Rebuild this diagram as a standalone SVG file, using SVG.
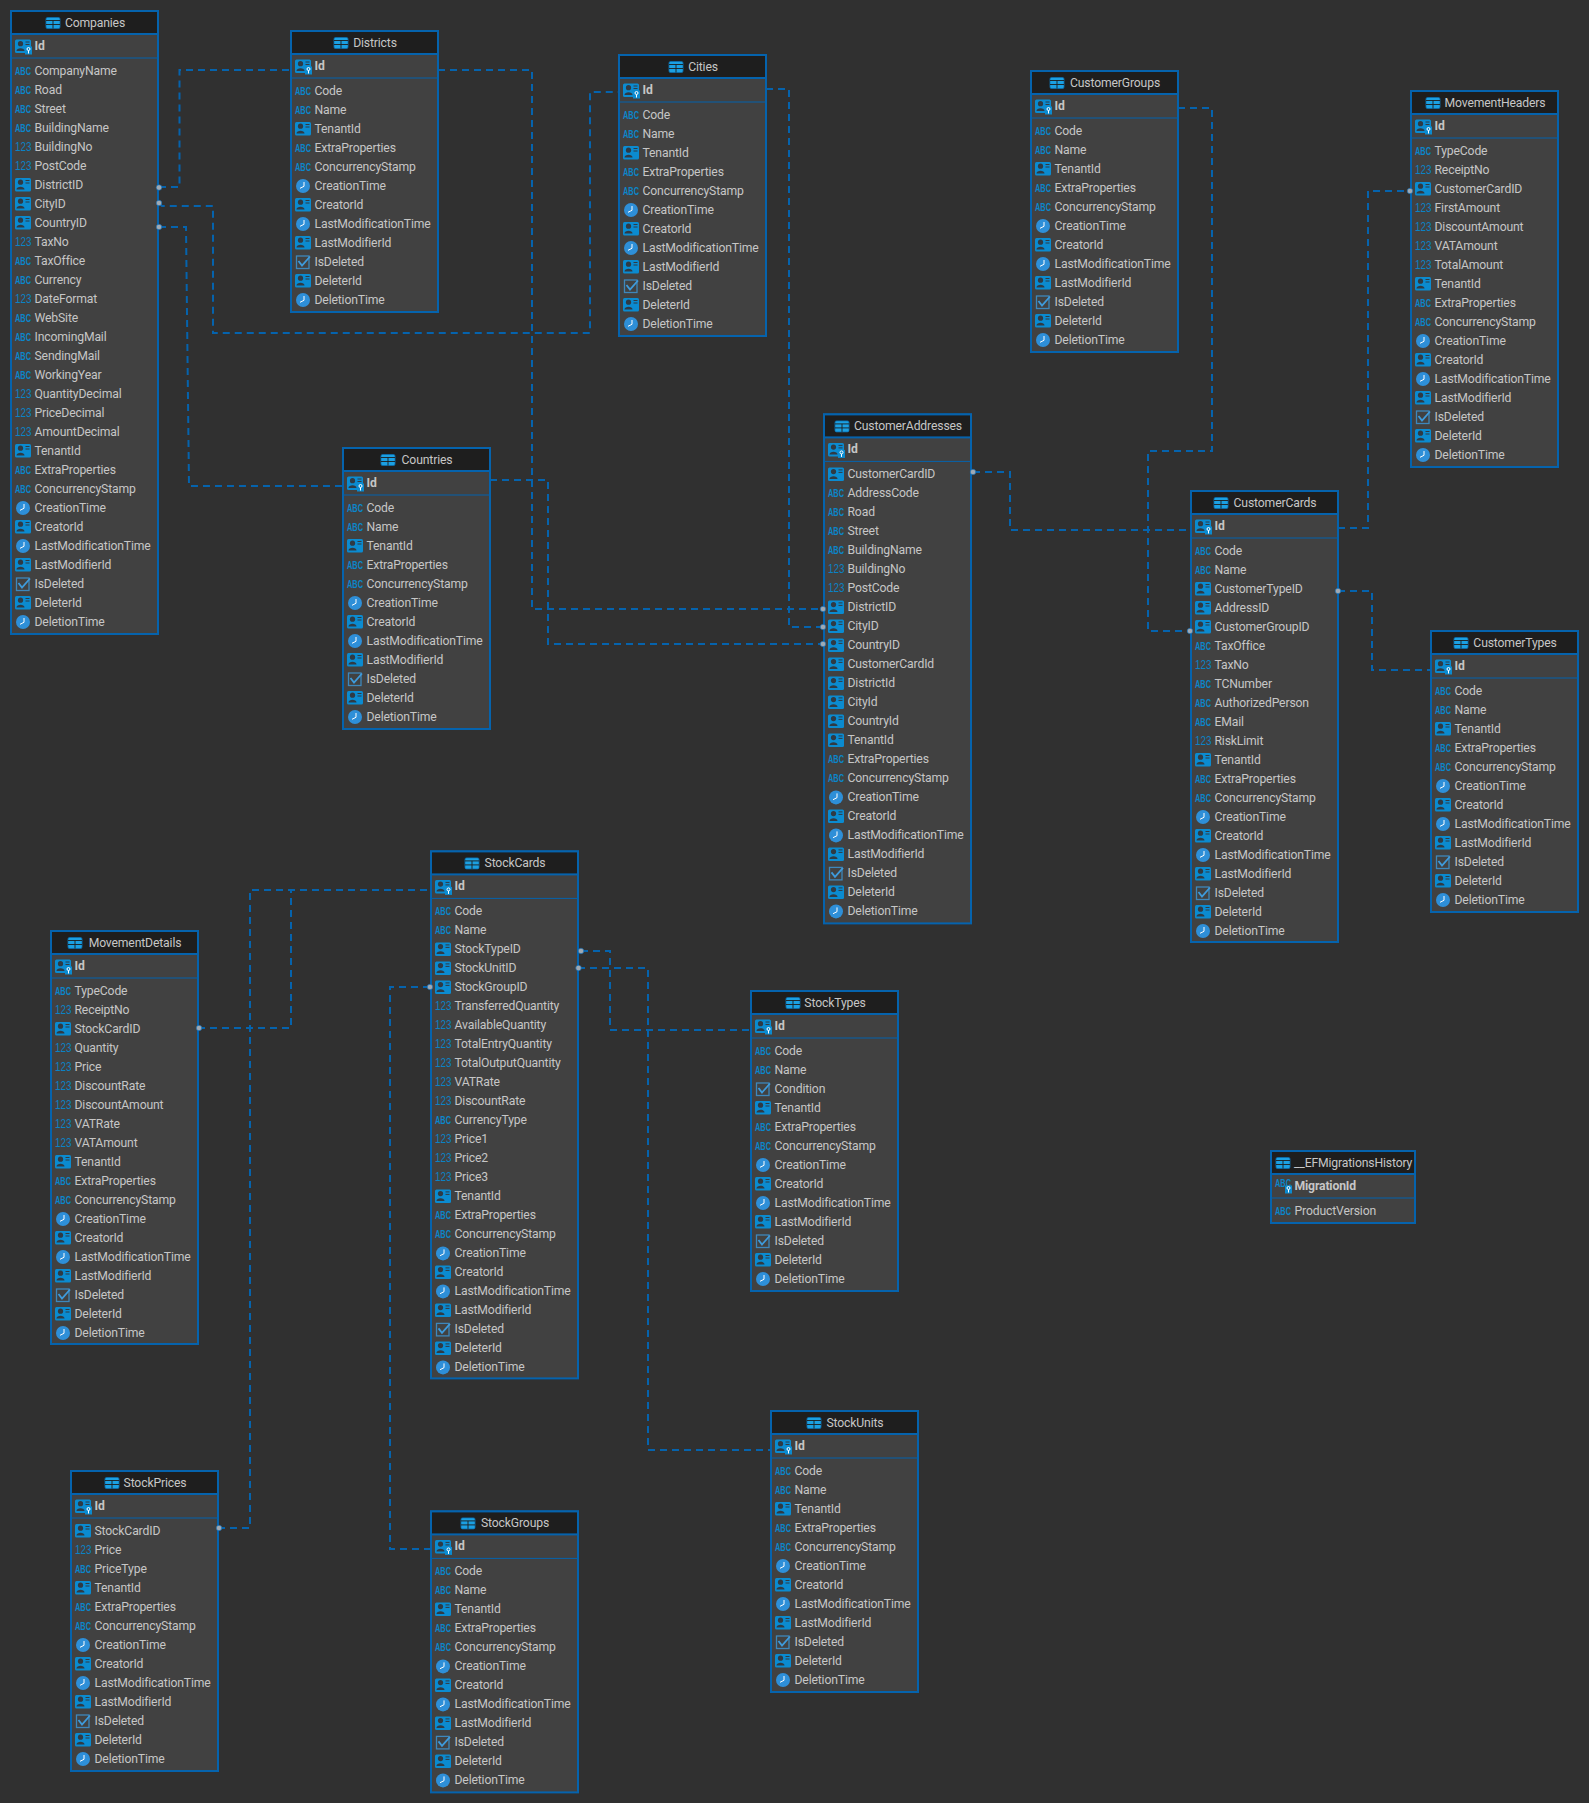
<svg xmlns="http://www.w3.org/2000/svg" width="1589" height="1803" viewBox="0 0 1589 1803">
<style>
text{font-family:Roboto,"Open Sans",sans-serif;font-size:12.2px;letter-spacing:-.15px;fill:#c6c6c6;dominant-baseline:central;transform:translateY(-.5px)}
.h{text-anchor:middle}
.i{font-weight:700}
.box{fill:#414141;stroke:#0563ad;stroke-width:2}
.tb{fill:#1e1e1e;stroke:#0563ad;stroke-width:2}
.sep{stroke:#0563ad;stroke-width:1}
.ia{font-size:11px;font-weight:700;letter-spacing:0;fill:#0b86ca;font-family:"Liberation Sans",sans-serif}
.in{font-size:13px;letter-spacing:0;fill:#0b82c4;font-family:"Liberation Sans",sans-serif}
.lnk{fill:none;stroke:#0563ad;stroke-width:2;stroke-dasharray:7 5}
.dot{fill:#9fa9b3;stroke:#0563ad;stroke-width:.6}
</style>
<defs>
<g id="a"><text class="ia" x="4" y="0" textLength="16" lengthAdjust="spacingAndGlyphs">ABC</text></g>
<g id="n"><text class="in" x="4" y="0" textLength="16.500" lengthAdjust="spacingAndGlyphs">123</text></g>
<g id="p"><rect x="4" y="-7" width="16" height="13.5" rx="1.500" fill="#0b8bd0"/><circle cx="9.500" cy="-2.800" r="2.600" fill="#2f3a44"/><path d="M5.500 4.500c0-3.600 8-3.600 8 0z" fill="#2f3a44"/><path d="M14.500-4.500h4M14.500-2h4" stroke="#2f3a44"/></g>
<g id="c"><circle cx="12" cy="0" r="7" fill="#2e8fd8"/><path d="M13-4v4.300l-4 2" fill="none" stroke="#fff" stroke-width="1"/></g>
<g id="k"><rect x="5.500" y="-6" width="12.500" height="12.500" fill="none" stroke="#3e87bb" stroke-width="1.300"/><path d="M7.500-1l3.500 4.500 8-9" fill="none" stroke="#3e9bdc" stroke-width="1.800"/></g>
<g id="b"><rect x="14" y="0" width="7" height="8" fill="#0b8bd0"/><circle cx="17.500" cy="2.500" r="1.500" fill="none" stroke="#fff"/><path d="M17.500 4v3" stroke="#fff"/></g>
<g id="pk"><use href="#p"/><use href="#b"/></g>
<g id="ak"><use href="#a" y="-3"/><use href="#b" y="-1"/></g>
<g id="tb"><rect x="-1" y="-5.500" width="14" height="11" rx="1.500" fill="#1ba0e2" stroke="#0b6fb0" stroke-width=".8"/><path d="M-1-2.500h14M-1 1.500h14M6-2.500v8" stroke="#1e1e1e" stroke-width=".9"/></g>
</defs>
<rect width="1589" height="1803" fill="#303030"/>
<g id="nodes">
<g id="Companies" transform="translate(11 11)"><rect class="box" width="147" height="623"/><rect class="tb" width="147" height="23"/><line class="sep" x1="0" x2="147" y1="47" y2="47"/><use href="#tb" x="36" y="12"/><text class="h" x="84" y="12">Companies</text>
<use href="#pk" y="35.500"/><text class="i" x="23.500" y="35.500">Id</text>
<use href="#a" y="60"/><text x="23.500" y="60">CompanyName</text>
<use href="#a" y="79"/><text x="23.500" y="79">Road</text>
<use href="#a" y="98"/><text x="23.500" y="98">Street</text>
<use href="#a" y="117"/><text x="23.500" y="117">BuildingName</text>
<use href="#n" y="136"/><text x="23.500" y="136">BuildingNo</text>
<use href="#n" y="155"/><text x="23.500" y="155">PostCode</text>
<use href="#p" y="174"/><text x="23.500" y="174">DistrictID</text>
<use href="#p" y="193"/><text x="23.500" y="193">CityID</text>
<use href="#p" y="212"/><text x="23.500" y="212">CountryID</text>
<use href="#n" y="231"/><text x="23.500" y="231">TaxNo</text>
<use href="#a" y="250"/><text x="23.500" y="250">TaxOffice</text>
<use href="#a" y="269"/><text x="23.500" y="269">Currency</text>
<use href="#n" y="288"/><text x="23.500" y="288">DateFormat</text>
<use href="#a" y="307"/><text x="23.500" y="307">WebSite</text>
<use href="#a" y="326"/><text x="23.500" y="326">IncomingMail</text>
<use href="#a" y="345"/><text x="23.500" y="345">SendingMail</text>
<use href="#a" y="364"/><text x="23.500" y="364">WorkingYear</text>
<use href="#n" y="383"/><text x="23.500" y="383">QuantityDecimal</text>
<use href="#n" y="402"/><text x="23.500" y="402">PriceDecimal</text>
<use href="#n" y="421"/><text x="23.500" y="421">AmountDecimal</text>
<use href="#p" y="440"/><text x="23.500" y="440">TenantId</text>
<use href="#a" y="459"/><text x="23.500" y="459">ExtraProperties</text>
<use href="#a" y="478"/><text x="23.500" y="478">ConcurrencyStamp</text>
<use href="#c" y="497"/><text x="23.500" y="497">CreationTime</text>
<use href="#p" y="516"/><text x="23.500" y="516">CreatorId</text>
<use href="#c" y="535"/><text x="23.500" y="535">LastModificationTime</text>
<use href="#p" y="554"/><text x="23.500" y="554">LastModifierId</text>
<use href="#k" y="573"/><text x="23.500" y="573">IsDeleted</text>
<use href="#p" y="592"/><text x="23.500" y="592">DeleterId</text>
<use href="#c" y="611"/><text x="23.500" y="611">DeletionTime</text></g>

<g id="Districts" transform="translate(291 31)"><rect class="box" width="147" height="281"/><rect class="tb" width="147" height="23"/><line class="sep" x1="0" x2="147" y1="47" y2="47"/><use href="#tb" x="44" y="12"/><text class="h" x="84" y="12">Districts</text>
<use href="#pk" y="35.500"/><text class="i" x="23.500" y="35.500">Id</text>
<use href="#a" y="60"/><text x="23.500" y="60">Code</text>
<use href="#a" y="79"/><text x="23.500" y="79">Name</text>
<use href="#p" y="98"/><text x="23.500" y="98">TenantId</text>
<use href="#a" y="117"/><text x="23.500" y="117">ExtraProperties</text>
<use href="#a" y="136"/><text x="23.500" y="136">ConcurrencyStamp</text>
<use href="#c" y="155"/><text x="23.500" y="155">CreationTime</text>
<use href="#p" y="174"/><text x="23.500" y="174">CreatorId</text>
<use href="#c" y="193"/><text x="23.500" y="193">LastModificationTime</text>
<use href="#p" y="212"/><text x="23.500" y="212">LastModifierId</text>
<use href="#k" y="231"/><text x="23.500" y="231">IsDeleted</text>
<use href="#p" y="250"/><text x="23.500" y="250">DeleterId</text>
<use href="#c" y="269"/><text x="23.500" y="269">DeletionTime</text></g>

<g id="Cities" transform="translate(619 55)"><rect class="box" width="147" height="281"/><rect class="tb" width="147" height="23"/><line class="sep" x1="0" x2="147" y1="47" y2="47"/><use href="#tb" x="51" y="12"/><text class="h" x="84" y="12">Cities</text>
<use href="#pk" y="35.500"/><text class="i" x="23.500" y="35.500">Id</text>
<use href="#a" y="60"/><text x="23.500" y="60">Code</text>
<use href="#a" y="79"/><text x="23.500" y="79">Name</text>
<use href="#p" y="98"/><text x="23.500" y="98">TenantId</text>
<use href="#a" y="117"/><text x="23.500" y="117">ExtraProperties</text>
<use href="#a" y="136"/><text x="23.500" y="136">ConcurrencyStamp</text>
<use href="#c" y="155"/><text x="23.500" y="155">CreationTime</text>
<use href="#p" y="174"/><text x="23.500" y="174">CreatorId</text>
<use href="#c" y="193"/><text x="23.500" y="193">LastModificationTime</text>
<use href="#p" y="212"/><text x="23.500" y="212">LastModifierId</text>
<use href="#k" y="231"/><text x="23.500" y="231">IsDeleted</text>
<use href="#p" y="250"/><text x="23.500" y="250">DeleterId</text>
<use href="#c" y="269"/><text x="23.500" y="269">DeletionTime</text></g>

<g id="CustomerGroups" transform="translate(1031 71)"><rect class="box" width="147" height="281"/><rect class="tb" width="147" height="23"/><line class="sep" x1="0" x2="147" y1="47" y2="47"/><use href="#tb" x="20" y="12"/><text class="h" x="84" y="12">CustomerGroups</text>
<use href="#pk" y="35.500"/><text class="i" x="23.500" y="35.500">Id</text>
<use href="#a" y="60"/><text x="23.500" y="60">Code</text>
<use href="#a" y="79"/><text x="23.500" y="79">Name</text>
<use href="#p" y="98"/><text x="23.500" y="98">TenantId</text>
<use href="#a" y="117"/><text x="23.500" y="117">ExtraProperties</text>
<use href="#a" y="136"/><text x="23.500" y="136">ConcurrencyStamp</text>
<use href="#c" y="155"/><text x="23.500" y="155">CreationTime</text>
<use href="#p" y="174"/><text x="23.500" y="174">CreatorId</text>
<use href="#c" y="193"/><text x="23.500" y="193">LastModificationTime</text>
<use href="#p" y="212"/><text x="23.500" y="212">LastModifierId</text>
<use href="#k" y="231"/><text x="23.500" y="231">IsDeleted</text>
<use href="#p" y="250"/><text x="23.500" y="250">DeleterId</text>
<use href="#c" y="269"/><text x="23.500" y="269">DeletionTime</text></g>

<g id="MovementHeaders" transform="translate(1411 91)"><rect class="box" width="147" height="376"/><rect class="tb" width="147" height="23"/><line class="sep" x1="0" x2="147" y1="47" y2="47"/><use href="#tb" x="16" y="12"/><text class="h" x="84" y="12">MovementHeaders</text>
<use href="#pk" y="35.500"/><text class="i" x="23.500" y="35.500">Id</text>
<use href="#a" y="60"/><text x="23.500" y="60">TypeCode</text>
<use href="#n" y="79"/><text x="23.500" y="79">ReceiptNo</text>
<use href="#p" y="98"/><text x="23.500" y="98">CustomerCardID</text>
<use href="#n" y="117"/><text x="23.500" y="117">FirstAmount</text>
<use href="#n" y="136"/><text x="23.500" y="136">DiscountAmount</text>
<use href="#n" y="155"/><text x="23.500" y="155">VATAmount</text>
<use href="#n" y="174"/><text x="23.500" y="174">TotalAmount</text>
<use href="#p" y="193"/><text x="23.500" y="193">TenantId</text>
<use href="#a" y="212"/><text x="23.500" y="212">ExtraProperties</text>
<use href="#a" y="231"/><text x="23.500" y="231">ConcurrencyStamp</text>
<use href="#c" y="250"/><text x="23.500" y="250">CreationTime</text>
<use href="#p" y="269"/><text x="23.500" y="269">CreatorId</text>
<use href="#c" y="288"/><text x="23.500" y="288">LastModificationTime</text>
<use href="#p" y="307"/><text x="23.500" y="307">LastModifierId</text>
<use href="#k" y="326"/><text x="23.500" y="326">IsDeleted</text>
<use href="#p" y="345"/><text x="23.500" y="345">DeleterId</text>
<use href="#c" y="364"/><text x="23.500" y="364">DeletionTime</text></g>

<g id="CustomerAddresses" transform="translate(824 414.400)"><rect class="box" width="147" height="509"/><rect class="tb" width="147" height="23"/><line class="sep" x1="0" x2="147" y1="47" y2="47"/><use href="#tb" x="12" y="12"/><text class="h" x="84" y="12">CustomerAddresses</text>
<use href="#pk" y="35.500"/><text class="i" x="23.500" y="35.500">Id</text>
<use href="#p" y="60"/><text x="23.500" y="60">CustomerCardID</text>
<use href="#a" y="79"/><text x="23.500" y="79">AddressCode</text>
<use href="#a" y="98"/><text x="23.500" y="98">Road</text>
<use href="#a" y="117"/><text x="23.500" y="117">Street</text>
<use href="#a" y="136"/><text x="23.500" y="136">BuildingName</text>
<use href="#n" y="155"/><text x="23.500" y="155">BuildingNo</text>
<use href="#n" y="174"/><text x="23.500" y="174">PostCode</text>
<use href="#p" y="193"/><text x="23.500" y="193">DistrictID</text>
<use href="#p" y="212"/><text x="23.500" y="212">CityID</text>
<use href="#p" y="231"/><text x="23.500" y="231">CountryID</text>
<use href="#p" y="250"/><text x="23.500" y="250">CustomerCardId</text>
<use href="#p" y="269"/><text x="23.500" y="269">DistrictId</text>
<use href="#p" y="288"/><text x="23.500" y="288">CityId</text>
<use href="#p" y="307"/><text x="23.500" y="307">CountryId</text>
<use href="#p" y="326"/><text x="23.500" y="326">TenantId</text>
<use href="#a" y="345"/><text x="23.500" y="345">ExtraProperties</text>
<use href="#a" y="364"/><text x="23.500" y="364">ConcurrencyStamp</text>
<use href="#c" y="383"/><text x="23.500" y="383">CreationTime</text>
<use href="#p" y="402"/><text x="23.500" y="402">CreatorId</text>
<use href="#c" y="421"/><text x="23.500" y="421">LastModificationTime</text>
<use href="#p" y="440"/><text x="23.500" y="440">LastModifierId</text>
<use href="#k" y="459"/><text x="23.500" y="459">IsDeleted</text>
<use href="#p" y="478"/><text x="23.500" y="478">DeleterId</text>
<use href="#c" y="497"/><text x="23.500" y="497">DeletionTime</text></g>

<g id="CustomerCards" transform="translate(1191 491)"><rect class="box" width="147" height="451"/><rect class="tb" width="147" height="23"/><line class="sep" x1="0" x2="147" y1="47" y2="47"/><use href="#tb" x="24" y="12"/><text class="h" x="84" y="12">CustomerCards</text>
<use href="#pk" y="35.500"/><text class="i" x="23.500" y="35.500">Id</text>
<use href="#a" y="60"/><text x="23.500" y="60">Code</text>
<use href="#a" y="79"/><text x="23.500" y="79">Name</text>
<use href="#p" y="98"/><text x="23.500" y="98">CustomerTypeID</text>
<use href="#p" y="117"/><text x="23.500" y="117">AddressID</text>
<use href="#p" y="136"/><text x="23.500" y="136">CustomerGroupID</text>
<use href="#a" y="155"/><text x="23.500" y="155">TaxOffice</text>
<use href="#n" y="174"/><text x="23.500" y="174">TaxNo</text>
<use href="#a" y="193"/><text x="23.500" y="193">TCNumber</text>
<use href="#a" y="212"/><text x="23.500" y="212">AuthorizedPerson</text>
<use href="#a" y="231"/><text x="23.500" y="231">EMail</text>
<use href="#n" y="250"/><text x="23.500" y="250">RiskLimit</text>
<use href="#p" y="269"/><text x="23.500" y="269">TenantId</text>
<use href="#a" y="288"/><text x="23.500" y="288">ExtraProperties</text>
<use href="#a" y="307"/><text x="23.500" y="307">ConcurrencyStamp</text>
<use href="#c" y="326"/><text x="23.500" y="326">CreationTime</text>
<use href="#p" y="345"/><text x="23.500" y="345">CreatorId</text>
<use href="#c" y="364"/><text x="23.500" y="364">LastModificationTime</text>
<use href="#p" y="383"/><text x="23.500" y="383">LastModifierId</text>
<use href="#k" y="402"/><text x="23.500" y="402">IsDeleted</text>
<use href="#p" y="421"/><text x="23.500" y="421">DeleterId</text>
<use href="#c" y="440"/><text x="23.500" y="440">DeletionTime</text></g>

<g id="CustomerTypes" transform="translate(1431 631)"><rect class="box" width="147" height="281"/><rect class="tb" width="147" height="23"/><line class="sep" x1="0" x2="147" y1="47" y2="47"/><use href="#tb" x="24" y="12"/><text class="h" x="84" y="12">CustomerTypes</text>
<use href="#pk" y="35.500"/><text class="i" x="23.500" y="35.500">Id</text>
<use href="#a" y="60"/><text x="23.500" y="60">Code</text>
<use href="#a" y="79"/><text x="23.500" y="79">Name</text>
<use href="#p" y="98"/><text x="23.500" y="98">TenantId</text>
<use href="#a" y="117"/><text x="23.500" y="117">ExtraProperties</text>
<use href="#a" y="136"/><text x="23.500" y="136">ConcurrencyStamp</text>
<use href="#c" y="155"/><text x="23.500" y="155">CreationTime</text>
<use href="#p" y="174"/><text x="23.500" y="174">CreatorId</text>
<use href="#c" y="193"/><text x="23.500" y="193">LastModificationTime</text>
<use href="#p" y="212"/><text x="23.500" y="212">LastModifierId</text>
<use href="#k" y="231"/><text x="23.500" y="231">IsDeleted</text>
<use href="#p" y="250"/><text x="23.500" y="250">DeleterId</text>
<use href="#c" y="269"/><text x="23.500" y="269">DeletionTime</text></g>

<g id="Countries" transform="translate(343 448)"><rect class="box" width="147" height="281"/><rect class="tb" width="147" height="23"/><line class="sep" x1="0" x2="147" y1="47" y2="47"/><use href="#tb" x="39" y="12"/><text class="h" x="84" y="12">Countries</text>
<use href="#pk" y="35.500"/><text class="i" x="23.500" y="35.500">Id</text>
<use href="#a" y="60"/><text x="23.500" y="60">Code</text>
<use href="#a" y="79"/><text x="23.500" y="79">Name</text>
<use href="#p" y="98"/><text x="23.500" y="98">TenantId</text>
<use href="#a" y="117"/><text x="23.500" y="117">ExtraProperties</text>
<use href="#a" y="136"/><text x="23.500" y="136">ConcurrencyStamp</text>
<use href="#c" y="155"/><text x="23.500" y="155">CreationTime</text>
<use href="#p" y="174"/><text x="23.500" y="174">CreatorId</text>
<use href="#c" y="193"/><text x="23.500" y="193">LastModificationTime</text>
<use href="#p" y="212"/><text x="23.500" y="212">LastModifierId</text>
<use href="#k" y="231"/><text x="23.500" y="231">IsDeleted</text>
<use href="#p" y="250"/><text x="23.500" y="250">DeleterId</text>
<use href="#c" y="269"/><text x="23.500" y="269">DeletionTime</text></g>

<g id="StockCards" transform="translate(431 851.400)"><rect class="box" width="147" height="527"/><rect class="tb" width="147" height="23"/><line class="sep" x1="0" x2="147" y1="47" y2="47"/><use href="#tb" x="35" y="12"/><text class="h" x="84" y="12">StockCards</text>
<use href="#pk" y="35.500"/><text class="i" x="23.500" y="35.500">Id</text>
<use href="#a" y="60"/><text x="23.500" y="60">Code</text>
<use href="#a" y="79"/><text x="23.500" y="79">Name</text>
<use href="#p" y="98"/><text x="23.500" y="98">StockTypeID</text>
<use href="#p" y="117"/><text x="23.500" y="117">StockUnitID</text>
<use href="#p" y="136"/><text x="23.500" y="136">StockGroupID</text>
<use href="#n" y="155"/><text x="23.500" y="155">TransferredQuantity</text>
<use href="#n" y="174"/><text x="23.500" y="174">AvailableQuantity</text>
<use href="#n" y="193"/><text x="23.500" y="193">TotalEntryQuantity</text>
<use href="#n" y="212"/><text x="23.500" y="212">TotalOutputQuantity</text>
<use href="#n" y="231"/><text x="23.500" y="231">VATRate</text>
<use href="#n" y="250"/><text x="23.500" y="250">DiscountRate</text>
<use href="#a" y="269"/><text x="23.500" y="269">CurrencyType</text>
<use href="#n" y="288"/><text x="23.500" y="288">Price1</text>
<use href="#n" y="307"/><text x="23.500" y="307">Price2</text>
<use href="#n" y="326"/><text x="23.500" y="326">Price3</text>
<use href="#p" y="345"/><text x="23.500" y="345">TenantId</text>
<use href="#a" y="364"/><text x="23.500" y="364">ExtraProperties</text>
<use href="#a" y="383"/><text x="23.500" y="383">ConcurrencyStamp</text>
<use href="#c" y="402"/><text x="23.500" y="402">CreationTime</text>
<use href="#p" y="421"/><text x="23.500" y="421">CreatorId</text>
<use href="#c" y="440"/><text x="23.500" y="440">LastModificationTime</text>
<use href="#p" y="459"/><text x="23.500" y="459">LastModifierId</text>
<use href="#k" y="478"/><text x="23.500" y="478">IsDeleted</text>
<use href="#p" y="497"/><text x="23.500" y="497">DeleterId</text>
<use href="#c" y="516"/><text x="23.500" y="516">DeletionTime</text></g>

<g id="MovementDetails" transform="translate(51 931)"><rect class="box" width="147" height="413"/><rect class="tb" width="147" height="23"/><line class="sep" x1="0" x2="147" y1="47" y2="47"/><use href="#tb" x="18" y="12"/><text class="h" x="84" y="12">MovementDetails</text>
<use href="#pk" y="35.500"/><text class="i" x="23.500" y="35.500">Id</text>
<use href="#a" y="60"/><text x="23.500" y="60">TypeCode</text>
<use href="#n" y="79"/><text x="23.500" y="79">ReceiptNo</text>
<use href="#p" y="98"/><text x="23.500" y="98">StockCardID</text>
<use href="#n" y="117"/><text x="23.500" y="117">Quantity</text>
<use href="#n" y="136"/><text x="23.500" y="136">Price</text>
<use href="#n" y="155"/><text x="23.500" y="155">DiscountRate</text>
<use href="#n" y="174"/><text x="23.500" y="174">DiscountAmount</text>
<use href="#n" y="193"/><text x="23.500" y="193">VATRate</text>
<use href="#n" y="212"/><text x="23.500" y="212">VATAmount</text>
<use href="#p" y="231"/><text x="23.500" y="231">TenantId</text>
<use href="#a" y="250"/><text x="23.500" y="250">ExtraProperties</text>
<use href="#a" y="269"/><text x="23.500" y="269">ConcurrencyStamp</text>
<use href="#c" y="288"/><text x="23.500" y="288">CreationTime</text>
<use href="#p" y="307"/><text x="23.500" y="307">CreatorId</text>
<use href="#c" y="326"/><text x="23.500" y="326">LastModificationTime</text>
<use href="#p" y="345"/><text x="23.500" y="345">LastModifierId</text>
<use href="#k" y="364"/><text x="23.500" y="364">IsDeleted</text>
<use href="#p" y="383"/><text x="23.500" y="383">DeleterId</text>
<use href="#c" y="402"/><text x="23.500" y="402">DeletionTime</text></g>

<g id="StockTypes" transform="translate(751 991)"><rect class="box" width="147" height="300"/><rect class="tb" width="147" height="23"/><line class="sep" x1="0" x2="147" y1="47" y2="47"/><use href="#tb" x="36" y="12"/><text class="h" x="84" y="12">StockTypes</text>
<use href="#pk" y="35.500"/><text class="i" x="23.500" y="35.500">Id</text>
<use href="#a" y="60"/><text x="23.500" y="60">Code</text>
<use href="#a" y="79"/><text x="23.500" y="79">Name</text>
<use href="#k" y="98"/><text x="23.500" y="98">Condition</text>
<use href="#p" y="117"/><text x="23.500" y="117">TenantId</text>
<use href="#a" y="136"/><text x="23.500" y="136">ExtraProperties</text>
<use href="#a" y="155"/><text x="23.500" y="155">ConcurrencyStamp</text>
<use href="#c" y="174"/><text x="23.500" y="174">CreationTime</text>
<use href="#p" y="193"/><text x="23.500" y="193">CreatorId</text>
<use href="#c" y="212"/><text x="23.500" y="212">LastModificationTime</text>
<use href="#p" y="231"/><text x="23.500" y="231">LastModifierId</text>
<use href="#k" y="250"/><text x="23.500" y="250">IsDeleted</text>
<use href="#p" y="269"/><text x="23.500" y="269">DeleterId</text>
<use href="#c" y="288"/><text x="23.500" y="288">DeletionTime</text></g>

<g id="EFMigrationsHistory" transform="translate(1271 1151)"><rect class="box" width="144" height="72"/><rect class="tb" width="144" height="23"/><line class="sep" x1="0" x2="144" y1="47" y2="47"/><use href="#tb" x="6" y="12"/><text x="23" y="12">__EFMigrationsHistory</text>
<use href="#ak" y="35.500"/><text class="i" x="23.500" y="35.500">MigrationId</text>
<use href="#a" y="60"/><text x="23.500" y="60">ProductVersion</text></g>

<g id="StockUnits" transform="translate(771 1411)"><rect class="box" width="147" height="281"/><rect class="tb" width="147" height="23"/><line class="sep" x1="0" x2="147" y1="47" y2="47"/><use href="#tb" x="37" y="12"/><text class="h" x="84" y="12">StockUnits</text>
<use href="#pk" y="35.500"/><text class="i" x="23.500" y="35.500">Id</text>
<use href="#a" y="60"/><text x="23.500" y="60">Code</text>
<use href="#a" y="79"/><text x="23.500" y="79">Name</text>
<use href="#p" y="98"/><text x="23.500" y="98">TenantId</text>
<use href="#a" y="117"/><text x="23.500" y="117">ExtraProperties</text>
<use href="#a" y="136"/><text x="23.500" y="136">ConcurrencyStamp</text>
<use href="#c" y="155"/><text x="23.500" y="155">CreationTime</text>
<use href="#p" y="174"/><text x="23.500" y="174">CreatorId</text>
<use href="#c" y="193"/><text x="23.500" y="193">LastModificationTime</text>
<use href="#p" y="212"/><text x="23.500" y="212">LastModifierId</text>
<use href="#k" y="231"/><text x="23.500" y="231">IsDeleted</text>
<use href="#p" y="250"/><text x="23.500" y="250">DeleterId</text>
<use href="#c" y="269"/><text x="23.500" y="269">DeletionTime</text></g>

<g id="StockPrices" transform="translate(71 1471)"><rect class="box" width="147" height="300"/><rect class="tb" width="147" height="23"/><line class="sep" x1="0" x2="147" y1="47" y2="47"/><use href="#tb" x="35" y="12"/><text class="h" x="84" y="12">StockPrices</text>
<use href="#pk" y="35.500"/><text class="i" x="23.500" y="35.500">Id</text>
<use href="#p" y="60"/><text x="23.500" y="60">StockCardID</text>
<use href="#n" y="79"/><text x="23.500" y="79">Price</text>
<use href="#a" y="98"/><text x="23.500" y="98">PriceType</text>
<use href="#p" y="117"/><text x="23.500" y="117">TenantId</text>
<use href="#a" y="136"/><text x="23.500" y="136">ExtraProperties</text>
<use href="#a" y="155"/><text x="23.500" y="155">ConcurrencyStamp</text>
<use href="#c" y="174"/><text x="23.500" y="174">CreationTime</text>
<use href="#p" y="193"/><text x="23.500" y="193">CreatorId</text>
<use href="#c" y="212"/><text x="23.500" y="212">LastModificationTime</text>
<use href="#p" y="231"/><text x="23.500" y="231">LastModifierId</text>
<use href="#k" y="250"/><text x="23.500" y="250">IsDeleted</text>
<use href="#p" y="269"/><text x="23.500" y="269">DeleterId</text>
<use href="#c" y="288"/><text x="23.500" y="288">DeletionTime</text></g>

<g id="StockGroups" transform="translate(431 1511.400)"><rect class="box" width="147" height="281"/><rect class="tb" width="147" height="23"/><line class="sep" x1="0" x2="147" y1="47" y2="47"/><use href="#tb" x="31" y="12"/><text class="h" x="84" y="12">StockGroups</text>
<use href="#pk" y="35.500"/><text class="i" x="23.500" y="35.500">Id</text>
<use href="#a" y="60"/><text x="23.500" y="60">Code</text>
<use href="#a" y="79"/><text x="23.500" y="79">Name</text>
<use href="#p" y="98"/><text x="23.500" y="98">TenantId</text>
<use href="#a" y="117"/><text x="23.500" y="117">ExtraProperties</text>
<use href="#a" y="136"/><text x="23.500" y="136">ConcurrencyStamp</text>
<use href="#c" y="155"/><text x="23.500" y="155">CreationTime</text>
<use href="#p" y="174"/><text x="23.500" y="174">CreatorId</text>
<use href="#c" y="193"/><text x="23.500" y="193">LastModificationTime</text>
<use href="#p" y="212"/><text x="23.500" y="212">LastModifierId</text>
<use href="#k" y="231"/><text x="23.500" y="231">IsDeleted</text>
<use href="#p" y="250"/><text x="23.500" y="250">DeleterId</text>
<use href="#c" y="269"/><text x="23.500" y="269">DeletionTime</text></g>
</g>
<g id="connectors">
<path class="lnk" d="M159 187H179.500V70H290"/>
<path class="lnk" d="M159 203L162 206H213V333H590V92H618"/>
<path class="lnk" d="M159 227H186L189 486H342"/>
<path class="lnk" d="M438 70H532V609H823"/>
<path class="lnk" d="M766 89H789V627H823"/>
<path class="lnk" d="M490 480H548V644H823"/>
<path class="lnk" d="M973 472H1010V530H1190"/>
<path class="lnk" d="M1178 108H1212V451H1148V631H1190"/>
<path class="lnk" d="M1338 528H1368V191H1410"/>
<path class="lnk" d="M1338 591H1372V670H1430"/>
<path class="lnk" d="M198 1028H291V890H430"/>
<path class="lnk" d="M218 1528H250V890H430"/>
<path class="lnk" d="M581 951H610V1030H750"/>
<path class="lnk" d="M578 968H648V1450H770"/>
<path class="lnk" d="M430 987H390V1549H430"/>
<g class="dot"><circle cx="159" cy="187.500" r="2.800"/><circle cx="159" cy="203" r="2.800"/><circle cx="159" cy="227" r="2.800"/><circle cx="973" cy="472" r="2.800"/><circle cx="1410" cy="191" r="2.800"/><circle cx="1190" cy="631" r="2.800"/><circle cx="1338" cy="591" r="2.800"/><circle cx="823" cy="609" r="2.800"/><circle cx="823" cy="627" r="2.800"/><circle cx="823" cy="644" r="2.800"/><circle cx="199" cy="1028" r="2.800"/><circle cx="219" cy="1528" r="2.800"/><circle cx="581" cy="951" r="2.800"/><circle cx="578.500" cy="968" r="2.800"/><circle cx="430" cy="987" r="2.800"/></g>
</g>
</svg>
